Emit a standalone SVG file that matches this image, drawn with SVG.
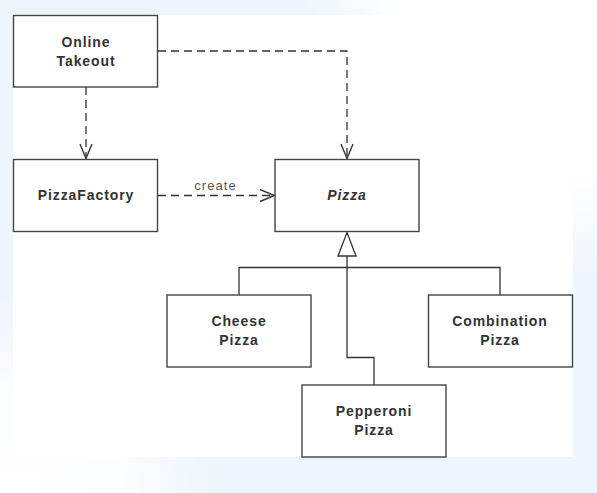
<svg xmlns="http://www.w3.org/2000/svg" width="597" height="493" viewBox="0 0 597 493">
<defs>
<radialGradient id="tr" cx="560" cy="20" r="260" gradientUnits="userSpaceOnUse">
<stop offset="0" stop-color="#ffffff"/><stop offset="0.6" stop-color="#ffffff"/><stop offset="1" stop-color="#ffffff" stop-opacity="0"/>
</radialGradient>
<radialGradient id="bl" cx="20" cy="493" r="200" gradientUnits="userSpaceOnUse">
<stop offset="0" stop-color="#ffffff"/><stop offset="0.5" stop-color="#ffffff" stop-opacity="0.8"/><stop offset="1" stop-color="#ffffff" stop-opacity="0"/>
</radialGradient>
<marker id="open" viewBox="0 0 16 14" refX="15.5" refY="7" markerWidth="16" markerHeight="14" markerUnits="userSpaceOnUse" orient="auto">
<path d="M1,1 L15.5,7 L1,13" fill="none" stroke="#333" stroke-width="1.4" stroke-dasharray="none"/>
</marker>
<style>
.box{fill:#fff;stroke:#444;stroke-width:1.4}
.t{font-family:"Liberation Sans",Arial,sans-serif;font-weight:bold;font-size:14px;letter-spacing:0.9px;fill:#333;text-anchor:middle}
.dash{fill:none;stroke:#333;stroke-width:1.3;stroke-dasharray:8,5}
.solid{fill:none;stroke:#333;stroke-width:1.3}
.lbl{font-family:"Liberation Sans",Arial,sans-serif;font-size:13px;letter-spacing:1.1px;fill:#555;text-anchor:middle}
</style>
</defs>
<rect x="0" y="0" width="597" height="493" fill="#eef5fc"/>
<rect x="0" y="0" width="597" height="493" fill="url(#tr)"/>
<rect x="0" y="0" width="597" height="493" fill="url(#bl)"/>
<rect x="13" y="15" width="560" height="442" fill="#ffffff"/>

<g id="connectors">
<path class="dash" d="M158,51 H347 V158.5" marker-end="url(#open)"/>
<path class="dash" d="M86,87 V158.5" marker-end="url(#open)"/>
<path class="dash" d="M158,195.5 H274.5" marker-end="url(#open)"/>
<text class="lbl" x="215.5" y="189.5">create</text>
<path class="solid" d="M239,295 V267.5 H500 V295"/>
<path class="solid" d="M347,256 V357.5 H374 V385"/>
<polygon points="347,232.5 356,256 338,256" fill="#fff" stroke="#333" stroke-width="1.3"/>
</g>

<g id="online-takeout">
<rect class="box" x="13.5" y="15.5" width="144" height="71.5"/>
<text class="t" x="86" y="47">Online</text>
<text class="t" x="86" y="66">Takeout</text>
</g>
<g id="pizza-factory">
<rect class="box" x="13.5" y="159.5" width="144" height="72"/>
<text class="t" x="86" y="200">PizzaFactory</text>
</g>
<g id="pizza">
<rect class="box" x="275" y="159.5" width="144" height="72"/>
<text class="t" x="347" y="200" font-style="italic">Pizza</text>
</g>
<g id="cheese-pizza">
<rect class="box" x="167" y="295" width="144" height="72"/>
<text class="t" x="239" y="326">Cheese</text>
<text class="t" x="239" y="344.5">Pizza</text>
</g>
<g id="combination-pizza">
<rect class="box" x="428.5" y="295" width="144" height="72"/>
<text class="t" x="500" y="326">Combination</text>
<text class="t" x="500" y="344.5">Pizza</text>
</g>
<g id="pepperoni-pizza">
<rect class="box" x="302" y="385" width="144" height="72"/>
<text class="t" x="374" y="416">Pepperoni</text>
<text class="t" x="374" y="435">Pizza</text>
</g>
</svg>
